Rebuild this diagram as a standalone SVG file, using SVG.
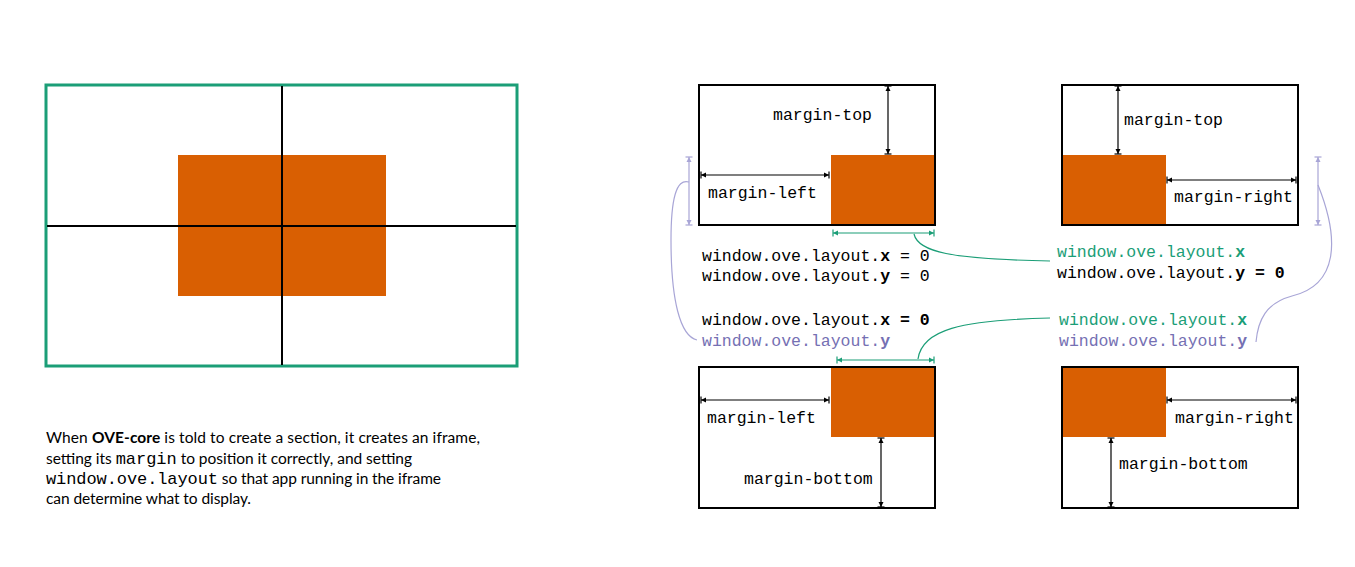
<svg xmlns="http://www.w3.org/2000/svg" width="1355" height="567" viewBox="0 0 1355 567">
<style>
.bg{fill:#fff}
.frame{fill:#fff;stroke:#000;stroke-width:2}
.sec{fill:#d95f02}
.dim{stroke:#000;stroke-width:1.2;fill:none;marker-start:url(#mb);marker-end:url(#mb)}
.gdim{stroke:#1b9e77;stroke-width:1.2;fill:none;marker-start:url(#mg);marker-end:url(#mg)}
.pdim{stroke:#a8a5d6;stroke-width:1.2;fill:none;marker-start:url(#mp);marker-end:url(#mp)}
.gc{stroke:#1b9e77;stroke-width:1.2;fill:none}
.pc{stroke:#a8a5d6;stroke-width:1.2;fill:none}
.mono{font-family:"Liberation Mono","Courier New",monospace;font-size:16.5px;fill:#000}
.g{fill:#1b9e77}
.p{fill:#7570b3}
.b{font-weight:bold}
.sans{font-family:"Lato","Liberation Sans",sans-serif;font-size:15.5px;fill:#000}
.im{font-family:"Liberation Mono","Courier New",monospace;font-size:17px}
</style>
<defs>
<marker id="mb" viewBox="-7 -5 8 10" refX="0" refY="0" markerWidth="8" markerHeight="10" markerUnits="userSpaceOnUse" orient="auto-start-reverse">
<path d="M-5,-2.5 L0,0 L-5,2.5 Z" fill="#000"/><path d="M0,-3.5 V3.5" stroke="#000" stroke-width="1.2"/>
</marker>
<marker id="mg" viewBox="-7 -5 8 10" refX="0" refY="0" markerWidth="8" markerHeight="10" markerUnits="userSpaceOnUse" orient="auto-start-reverse">
<path d="M-5,-2.5 L0,0 L-5,2.5 Z" fill="#1b9e77"/><path d="M0,-3.5 V3.5" stroke="#1b9e77" stroke-width="1.2"/>
</marker>
<marker id="mp" viewBox="-7 -5 8 10" refX="0" refY="0" markerWidth="8" markerHeight="10" markerUnits="userSpaceOnUse" orient="auto-start-reverse">
<path d="M-5,-2.5 L0,0 L-5,2.5 Z" fill="#a8a5d6"/><path d="M0,-3.5 V3.5" stroke="#a8a5d6" stroke-width="1.2"/>
</marker>
</defs>
<rect class="bg" x="0" y="0" width="1355" height="567"/>

<g id="overview">
<rect x="46" y="85" width="471" height="281" fill="#fff" stroke="#1b9e77" stroke-width="3"/>
<rect class="sec" x="178" y="155" width="208" height="141"/>
<path d="M282,86 V365 M47,226 H516" stroke="#000" stroke-width="2"/>
</g>

<g id="caption">
<text class="sans" x="46" y="443" textLength="434" lengthAdjust="spacing">When <tspan font-weight="bold">OVE-core</tspan> is told to create a section, it creates an iframe,</text>
<text class="sans" x="46" y="464" textLength="366" lengthAdjust="spacing">setting its <tspan class="im">margin</tspan> to position it correctly, and setting</text>
<text class="sans" x="46" y="484" textLength="395" lengthAdjust="spacing"><tspan class="im">window.ove.layout</tspan> so that app running in the iframe</text>
<text class="sans" x="46" y="504" textLength="205" lengthAdjust="spacing">can determine what to display.</text>
</g>

<g id="box-top-left">
<rect class="frame" x="699" y="85" width="236" height="140"/>
<rect class="sec" x="831" y="155" width="104" height="70"/>
<path d="M699,85 H935 V225 H699 Z" fill="none" stroke="#000" stroke-width="2"/>
<path class="dim" d="M888,86 V154"/>
<path class="dim" d="M701,175 H829"/>
<text class="mono" x="773" y="120">margin-top</text>
<text class="mono" x="708" y="198">margin-left</text>
</g>

<g id="box-top-right">
<rect class="frame" x="1062" y="85" width="236" height="140"/>
<rect class="sec" x="1062" y="155" width="104" height="70"/>
<path d="M1062,85 H1298 V225 H1062 Z" fill="none" stroke="#000" stroke-width="2"/>
<path class="dim" d="M1118,86 V154"/>
<path class="dim" d="M1167,180 H1296"/>
<text class="mono" x="1124" y="125">margin-top</text>
<text class="mono" x="1174" y="202">margin-right</text>
</g>

<g id="box-bottom-left">
<rect class="frame" x="699" y="367" width="236" height="141"/>
<rect class="sec" x="831" y="367" width="104" height="70"/>
<path d="M699,367 H935 V508 H699 Z" fill="none" stroke="#000" stroke-width="2"/>
<path class="dim" d="M701,400 H829"/>
<path class="dim" d="M881,438 V507"/>
<text class="mono" x="707" y="423">margin-left</text>
<text class="mono" x="744" y="484">margin-bottom</text>
</g>

<g id="box-bottom-right">
<rect class="frame" x="1062" y="367" width="236" height="141"/>
<rect class="sec" x="1062" y="367" width="104" height="70"/>
<path d="M1062,367 H1298 V508 H1062 Z" fill="none" stroke="#000" stroke-width="2"/>
<path class="dim" d="M1167,400 H1296"/>
<path class="dim" d="M1111,438 V507"/>
<text class="mono" x="1175" y="423">margin-right</text>
<text class="mono" x="1119" y="469">margin-bottom</text>
</g>

<g id="labels-left">
<text class="mono" x="702" y="261">window.ove.layout.<tspan class="b">x</tspan> = 0</text>
<text class="mono" x="702" y="281">window.ove.layout.<tspan class="b">y</tspan> = 0</text>
<text class="mono" x="702" y="325">window.ove.layout.<tspan class="b">x = 0</tspan></text>
<text class="mono p" x="702" y="346">window.ove.layout.<tspan class="b">y</tspan></text>
</g>

<g id="labels-right">
<text class="mono g" x="1057" y="257">window.ove.layout.<tspan class="b">x</tspan></text>
<text class="mono" x="1057" y="278">window.ove.layout.<tspan class="b">y = 0</tspan></text>
<text class="mono g" x="1059" y="325">window.ove.layout.<tspan class="b">x</tspan></text>
<text class="mono p" x="1059" y="346">window.ove.layout.<tspan class="b">y</tspan></text>
</g>

<g id="connectors">
<path class="gdim" d="M833,233 H934"/>
<path class="gc" d="M914,234 C918,252 950,259 1050,261"/>
<path class="gdim" d="M837,360 H934"/>
<path class="gc" d="M918,359 C922,330 960,320 1050,318"/>
<path class="pdim" d="M689,157 V225"/>
<path class="pc" d="M689,182 C676,178 671,200 671,240 C671,300 680,336 697,340"/>
<path class="pdim" d="M1318,157 V225"/>
<path class="pc" d="M1318,185 C1340,240 1338,285 1292,296 C1266,303 1258,320 1256,342"/>
</g>
</svg>
